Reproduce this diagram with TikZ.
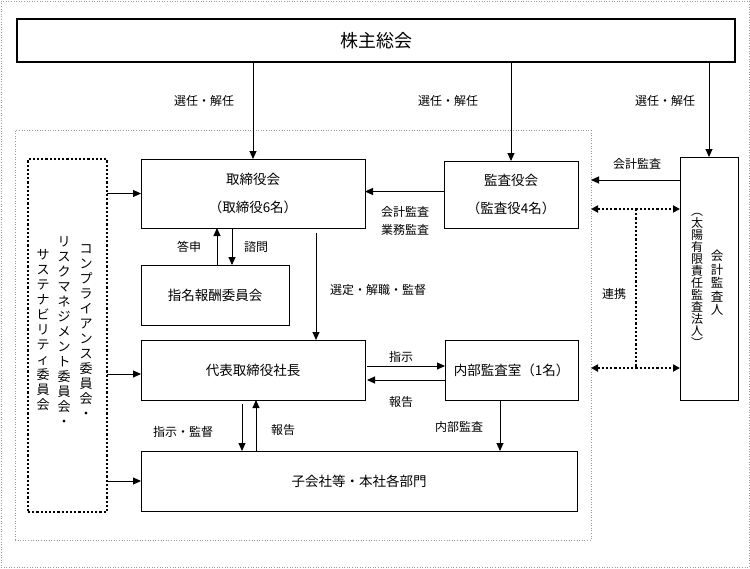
\documentclass[tikz,border=0pt]{standalone}
\usepackage{fontspec}
\setmainfont{Noto Sans CJK JP}
\usetikzlibrary{positioning,arrows.meta,calc}

\begin{document}
\begin{tikzpicture}[x=1pt,y=-1pt,
    box/.style={rectangle,draw,line width=0.9pt,outer sep=0pt,align=center,font=\fontsize{13.5}{28}\selectfont},
    frame/.style={rectangle,draw=gray!80,dotted,line width=0.6pt,outer sep=0pt},
    lbl/.style={font=\fontsize{12}{18}\selectfont,align=center,inner sep=0pt},
    tate/.style={align=center,inner sep=0pt,font=\fontsize{13}{15}\selectfont},
    arrow/.style={-{Triangle[length=8pt,width=7pt]},line width=0.9pt},
    link/.style={{Triangle[length=7pt,width=7pt]}-{Triangle[length=7pt,width=7pt]},line width=2.2pt,dash pattern=on 2.2pt off 2pt},
    linkline/.style={line width=2.2pt,dash pattern=on 2.2pt off 2pt}
]
\useasboundingbox (0,0) rectangle (750,568);

% frames
\node[frame,minimum width=748,minimum height=566] (page) at (375,284) {};
\node[frame,minimum width=576,minimum height=410] (inner) at (303,335) {};

% shareholders
\node[draw,line width=1.8pt,outer sep=0pt,minimum width=718,minimum height=43,font=\fontsize{18}{20}\selectfont] (share) at (376,40.5) {株主総会};

% boxes
\node[box,minimum width=224,minimum height=69] (board) at (253,193.5) {取締役会\\（取締役6名）};
\node[box,minimum width=134,minimum height=67] (kansa) at (511,194.5) {監査役会\\（監査役4名）};
\node[box,minimum width=148,minimum height=60] (nom) at (215,295) {指名報酬委員会};
\node[box,minimum width=224,minimum height=60] (ceo) at (253,370) {代表取締役社長};
\node[box,minimum width=133,minimum height=60] (audit) at (511.5,370) {内部監査室（1名）};
\node[box,minimum width=436,minimum height=60] (subs) at (359,481) {子会社等・本社各部門};
\node[box,minimum width=58,minimum height=243] (auditor) at (709,278.5) {};

% committees (vertical text)
\node[draw,line width=2.2pt,dash pattern=on 2.2pt off 2pt,outer sep=0pt,minimum width=79,minimum height=353] (csr) at (67.5,335.5) {};
\node[tate] (comp) at (86,332) {コ\\ン\\プ\\ラ\\イ\\ア\\ン\\ス\\委\\員\\会\\・};
\node[tate] (risk) at (64,332) {リ\\ス\\ク\\マ\\ネ\\ジ\\メ\\ン\\ト\\委\\員\\会\\・};
\node[tate] (sust) at (43,330) {サ\\ス\\テ\\ナ\\ビ\\リ\\テ\\ィ\\委\\員\\会};

% accounting auditor (vertical text)
\node[tate,font=\fontsize{12.5}{13.5}\selectfont] (kaikei) at (717,283) {会\\計\\監\\査\\人};
\node[tate,font=\fontsize{12}{12}\selectfont] (taiyo) at (697,280) {︵\\太\\陽\\有\\限\\責\\任\\監\\査\\法\\人\\︶};

% election
\draw[arrow] (share.south -| board.north) -- (board.north);
\draw[arrow] (share.south -| kansa.north) -- (kansa.north);
\draw[arrow] (share.south -| auditor.north) -- (auditor.north);
\node[lbl] (elect1) at (204,101) {選任・解任};
\node[lbl] (elect2) at (448,101) {選任・解任};
\node[lbl] (elect3) at (665,101) {選任・解任};

% committees to boxes
\draw[arrow] (csr.east |- board.west) -- (board.west);
\draw[arrow] ($(csr.east |- ceo.west)+(0,4)$) -- ($(ceo.west)+(0,4)$);
\draw[arrow] (csr.east |- subs.west) -- (subs.west);

% audit board
\draw[arrow] ($(kansa.west)+(0,-3)$) -- ($(kansa.west -| board.east)+(0,-3)$);
\node[lbl] (kansalbl) at (405,221) {会計監査\\業務監査};

% accounting auditor
\coordinate (ka) at (0,180);
\draw[arrow] (ka -| auditor.west) -- (ka -| inner.east);
\node[lbl] (kalbl) at (637,164) {会計監査};
\coordinate (lk1) at (0,209);
\coordinate (lk2) at (0,368);
\coordinate (lkx) at (636,0);
\draw[link] (lk1 -| inner.east) -- (lk1 -| auditor.west);
\draw[link] (lk2 -| inner.east) -- (lk2 -| auditor.west);
\draw[linkline] (lk1 -| lkx) -- (lk2 -| lkx);
\node[lbl] (lklbl) at (614,294) {連携};

% nomination committee
\coordinate (ans) at ($(nom.north)+(2,0)$);
\coordinate (ask) at ($(nom.north)+(17,0)$);
\draw[arrow] (ans) -- (ans |- board.south);
\draw[arrow] (ask |- board.south) -- (ask);
\node[lbl] (anslbl) at (189,247) {答申};
\node[lbl] (asklbl) at (256,247) {諮問};

% board to ceo
\draw[arrow] ($(board.south)+(63,5)$) -- ($(ceo.north)+(63,0)$);
\node[lbl] (sellbl) at (378,290) {選定・解職・監督};

% ceo and internal audit
\draw[arrow] ($(ceo.east)+(2,-4)$) -- ($(audit.west)+(0,-4)$);
\draw[arrow] ($(audit.west)+(0,10)$) -- ($(ceo.east)+(2,10)$);
\node[lbl] (inslbl) at (401,357) {指示};
\node[lbl] (replbl) at (401,402) {報告};

% ceo and subsidiaries
\draw[arrow] ($(ceo.south)+(-11,4)$) -- ($(subs.north -| ceo.south)+(-11,0)$);
\draw[arrow] ($(subs.north -| ceo.south)+(3,0)$) -- ($(ceo.south)+(3,0)$);
\node[lbl] (suplbl) at (183,432) {指示・監督};
\node[lbl] (rep2lbl) at (283,430) {報告};

% internal audit to subsidiaries
\draw[arrow] ($(audit.south)+(-11.5,0)$) -- ($(audit.south |- subs.north)+(-11.5,0)$);
\node[lbl] (ialbl) at (459,427) {内部監査};

\end{tikzpicture}
\end{document}
